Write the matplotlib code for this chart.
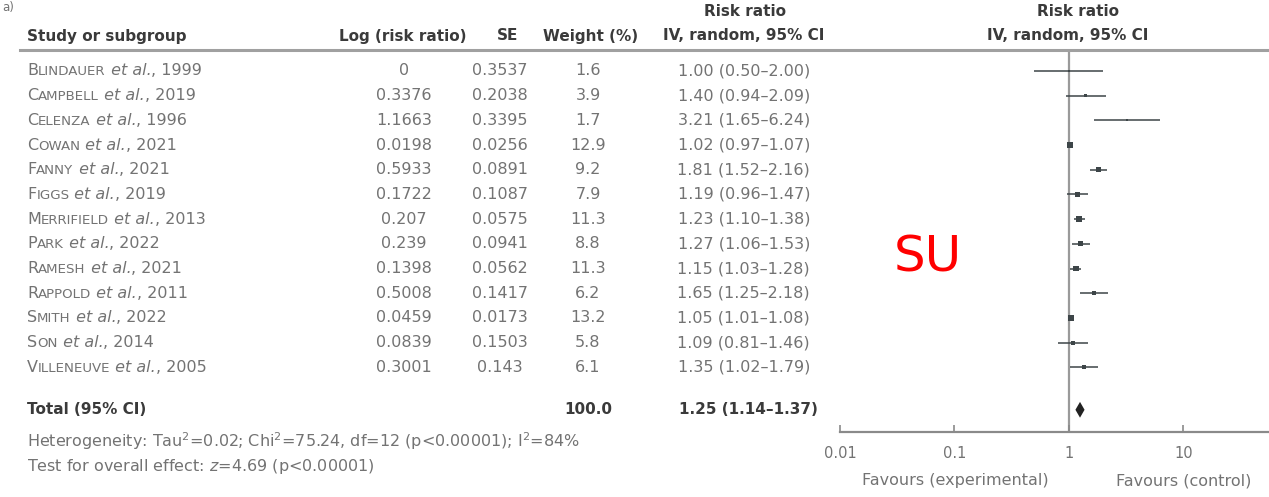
import matplotlib.pyplot as plt
import matplotlib.transforms as mtransforms
from matplotlib.lines import Line2D
import numpy as np

plt.rcParams['font.family'] = ['DejaVu Sans']

# Datos del forest plot
authors = ["Blindauer", "Campbell", "Celenza", "Cowan", "Fanny", "Figgs", "Merrifield",
           "Park", "Ramesh", "Rappold", "Smith", "Son", "Villeneuve"]
years = [1999, 2019, 1996, 2021, 2021, 2019, 2013, 2022, 2021, 2011, 2022, 2014, 2005]
log_rr = [0, 0.3376, 1.1663, 0.0198, 0.5933, 0.1722, 0.207, 0.239, 0.1398, 0.5008, 0.0459, 0.0839, 0.3001]
se = [0.3537, 0.2038, 0.3395, 0.0256, 0.0891, 0.1087, 0.0575, 0.0941, 0.0562, 0.1417, 0.0173, 0.1503, 0.143]
weight = [1.6, 3.9, 1.7, 12.9, 9.2, 7.9, 11.3, 8.8, 11.3, 6.2, 13.2, 5.8, 6.1]
rr = [1.00, 1.40, 3.21, 1.02, 1.81, 1.19, 1.23, 1.27, 1.15, 1.65, 1.05, 1.09, 1.35]
rr_low = [0.50, 0.94, 1.65, 0.97, 1.52, 0.96, 1.10, 1.06, 1.03, 1.25, 1.01, 0.81, 1.02]
rr_high = [2.00, 2.09, 6.24, 1.07, 2.16, 1.47, 1.38, 1.53, 1.28, 2.18, 1.08, 1.46, 1.79]

total_weight = 100.0
total_rr, total_low, total_high = 1.25, 1.14, 1.37
heterogeneity = "Heterogeneity: Tau$^2$=0.02; Chi$^2$=75.24, df=12 (p<0.00001); I$^2$=84%"
overall = "Test for overall effect: $z$=4.69 (p<0.00001)"

W, H = 1269, 497
fig = plt.figure(figsize=(W / 100, H / 100), dpi=100)

# Ejes del forest plot (escala log)
ax = fig.add_axes([840 / W, 1 - 432 / H, (W - 840) / W, (432 - 50) / H])
ax.set_xscale("log")
ax.set_xlim(0.01, 56)
n = len(authors)
rows = np.arange(n)
total_row = n + 0.72
ax.set_ylim(n + 1.62, -0.85)

gray_txt = "#737373"
dark_txt = "#3a3a3a"
mark_col = "#3d4548"

ax.axvline(1, color="#9a9a9a", lw=1.6, zorder=1)
ax.hlines(rows, rr_low, rr_high, color=mark_col, lw=1.1, zorder=2)
ax.scatter(rr, rows, marker="s", s=np.array(weight) * 1.4, color=mark_col, zorder=3, lw=0)

# Diamante del total
ax.fill([total_low, total_rr, total_high, total_rr],
        [total_row, total_row - 0.32, total_row, total_row + 0.32],
        color="#222222", zorder=3, lw=0)

for s in ["top", "right", "left"]:
    ax.spines[s].set_visible(False)
ax.spines["bottom"].set_color("#8a8a8a")
ax.spines["bottom"].set_linewidth(1.6)
ax.set_yticks([])
ax.set_xticks([0.01, 0.1, 1, 10])
ax.set_xticklabels(["0.01", "0.1", "1", "10"])
ax.minorticks_off()
ax.tick_params(axis="x", direction="in", length=5, width=1.2, color="#8a8a8a",
               labelsize=10.5, labelcolor=gray_txt, pad=10)

fig.text(955 / W, 1 - 481 / H, "Favours (experimental)", ha="center", va="center",
         fontsize=11.5, color=gray_txt)
fig.text(1184 / W, 1 - 481 / H, "Favours (control)", ha="center", va="center",
         fontsize=11.5, color=gray_txt)

# Cabeceras
hfs = 11
fig.text(2 / W, 1 - 8 / H, "a)", fontsize=8.5, color=gray_txt, va="center")
hy = 1 - 36 / H
fig.text(27 / W, hy, "Study or subgroup", fontsize=hfs, weight="bold", color=dark_txt, va="center")
fig.text(403 / W, hy, "Log (risk ratio)", fontsize=hfs, weight="bold", color=dark_txt, va="center", ha="center")
fig.text(508 / W, hy, "SE", fontsize=hfs, weight="bold", color=dark_txt, va="center", ha="center")
fig.text(591 / W, hy, "Weight (%)", fontsize=hfs, weight="bold", color=dark_txt, va="center", ha="center")
fig.text(744 / W, hy, "IV, random, 95% CI", fontsize=hfs, weight="bold", color=dark_txt, va="center", ha="center")
fig.text(745 / W, 1 - 12 / H, "Risk ratio", fontsize=hfs, weight="bold", color=dark_txt, va="center", ha="center")
fig.text(1068 / W, hy, "IV, random, 95% CI", fontsize=hfs, weight="bold", color=dark_txt, va="center", ha="center")
fig.text(1078 / W, 1 - 12 / H, "Risk ratio", fontsize=hfs, weight="bold", color=dark_txt, va="center", ha="center")
fig.add_artist(Line2D([20 / W, 1], [1 - 50 / H, 1 - 50 / H], color="#a0a0a0", lw=2.2,
                      transform=fig.transFigure))

# Tabla
tr = mtransforms.blended_transform_factory(fig.transFigure, ax.transData)
fs = 11.5
for i in range(n):
    first = fig.text(27 / W, rows[i], authors[i][0], transform=tr, fontsize=fs,
                     color=gray_txt, va="center")
    rest = ax.annotate(authors[i][1:].upper(), xy=(1, 0), xycoords=first, fontsize=fs * 0.84,
                       color=gray_txt, va="bottom", annotation_clip=False)
    etal = ax.annotate(" et al.", xy=(1, 0), xycoords=rest, fontsize=fs, style="italic",
                       color=gray_txt, va="bottom", annotation_clip=False)
    ax.annotate(f", {years[i]}", xy=(1, 0), xycoords=etal, fontsize=fs,
                color=gray_txt, va="bottom", annotation_clip=False)
    fig.text(404 / W, rows[i], f"{log_rr[i]:g}", transform=tr, fontsize=fs, color=gray_txt,
             va="center", ha="center")
    fig.text(500 / W, rows[i], f"{se[i]:g}", transform=tr, fontsize=fs, color=gray_txt,
             va="center", ha="center")
    fig.text(588 / W, rows[i], f"{weight[i]:.1f}", transform=tr, fontsize=fs, color=gray_txt,
             va="center", ha="center")
    fig.text(810 / W, rows[i], f"{rr[i]:.2f} ({rr_low[i]:.2f}\u2013{rr_high[i]:.2f})", transform=tr,
             fontsize=fs, color=gray_txt, va="center", ha="right")

fig.text(27 / W, total_row, "Total (95% CI)", transform=tr, fontsize=hfs, weight="bold",
         color=dark_txt, va="center")
fig.text(588 / W, total_row, f"{total_weight:.1f}", transform=tr, fontsize=hfs, weight="bold",
         color=dark_txt, va="center", ha="center")
fig.text(818 / W, total_row, f"{total_rr:.2f} ({total_low:.2f}\u2013{total_high:.2f})", transform=tr,
         fontsize=hfs, weight="bold", color=dark_txt, va="center", ha="right")

fig.text(27 / W, 1 - 441 / H, heterogeneity, fontsize=11.5, color=gray_txt, va="center")
fig.text(27 / W, 1 - 466 / H, overall, fontsize=11.5, color=gray_txt, va="center")

# Marca roja
fig.text(928 / W, 1 - 257 / H, "SU", fontsize=36, color="red", ha="center", va="center",
         family="DejaVu Sans")

fig.savefig("out.png", dpi=100)
